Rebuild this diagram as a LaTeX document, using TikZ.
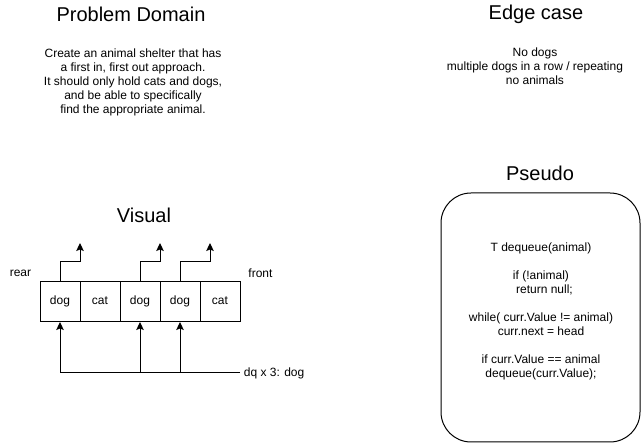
\documentclass[tikz,border=0pt]{standalone}
\usepackage{fontspec}
\setmainfont{Liberation Sans}
\usetikzlibrary{positioning,arrows.meta}

\begin{document}
\begin{tikzpicture}[x=1pt,y=-1pt,line width=1pt,
	title/.style={font=\fontsize{20}{24}\selectfont},
	txt/.style={font=\fontsize{12}{14}\selectfont,align=center},
	cell/.style={draw,minimum width=40pt,minimum height=40pt,inner sep=0pt,outer sep=0pt,
		text height=9pt,text depth=3pt,font=\fontsize{12}{14}\selectfont},
	arr/.style={-{Stealth[length=8pt,width=7.5pt,inset=1.5pt]}}]
\useasboundingbox (0,0) rectangle (641,443);
\node[title] (domain) at (131,14) {Problem Domain};
\node[txt] (domaintxt) at (133,82) {Create an animal shelter that has\\a first in, first out approach.\\It should only hold cats and dogs,\\and be able to specifically\\find the appropriate animal.};
\node[title] (edge) at (536,14) {Edge case};
\node[txt] (edgetxt) at (535,66.5) {No dogs\\multiple dogs in a row / repeating\\no animals};
\node[title] (visual) at (144,215) {Visual};
\node[title] (pseudo) at (540,173) {Pseudo};
\node[draw,rounded corners=30pt,minimum width=199pt,minimum height=249pt] (box) at (540.5,317.5) {};
\node[txt] (code) at (541,311) {T dequeue(animal)\\[14pt]if (!animal)\\\hspace*{7pt}return null;\\[14pt]while( curr.Value != animal)\\curr.next = head\\[14pt]if curr.Value == animal\\dequeue(curr.Value);};
\node[cell] (c1) at (60,302) {dog};
\node[cell,right=0pt of c1] (c2) {cat};
\node[cell,right=0pt of c2] (c3) {dog};
\node[cell,right=0pt of c3] (c4) {dog};
\node[cell,right=0pt of c4] (c5) {cat};
\node[txt] (rear) at (20.5,273) {rear};
\node[txt] (front) at (260.5,273) {front};
\coordinate (o1) at (80,243);
\coordinate (o2) at (160,243);
\coordinate (o3) at (210,243);
\draw[arr] (c1.north) -- ++(0,-20) -| (o1);
\draw[arr] (c3.north) -- ++(0,-20) -| (o2);
\draw[arr] (c4.north) -- ++(0,-20) -| (o3);
\node[txt,anchor=west] (dq) at (240,373) {dq x 3: dog};
\draw[arr] (dq.west) -| (c1.south);
\draw[arr] (c3.south |- dq.west) -- (c3.south);
\draw[arr] (c4.south |- dq.west) -- (c4.south);
\end{tikzpicture}
\end{document}
